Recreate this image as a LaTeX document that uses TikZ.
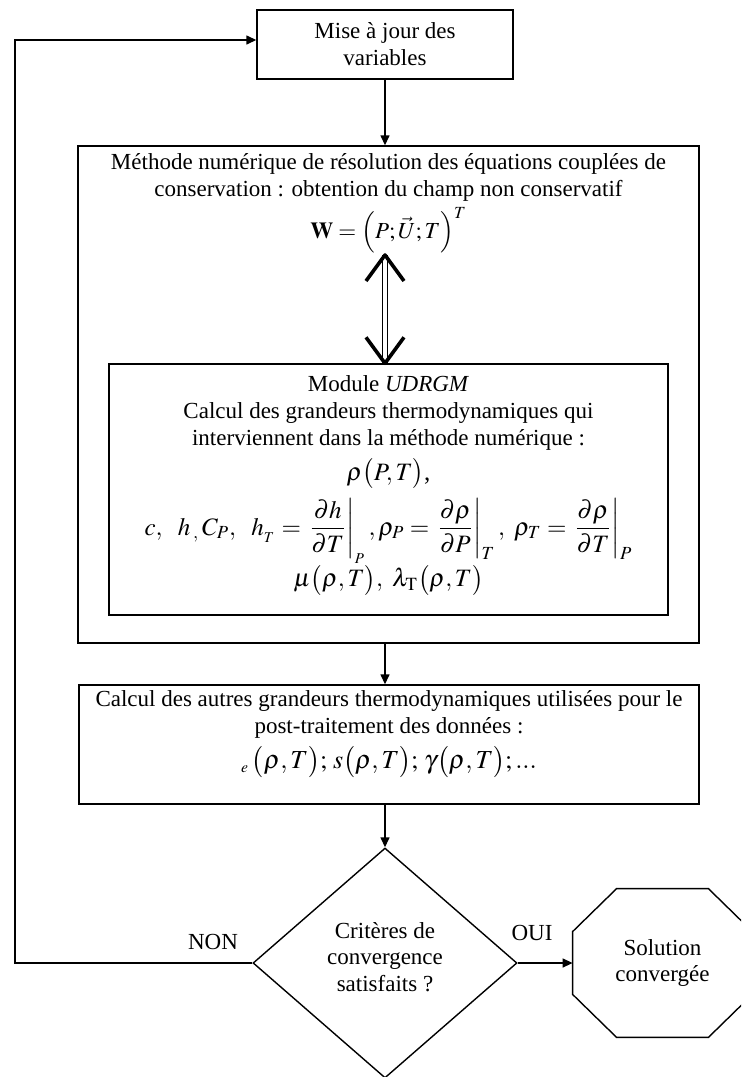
\documentclass[tikz,border=0pt]{standalone}
\usepackage{amsmath}
\usepackage{mathptmx}
\usepackage{fontspec}
\setmainfont{Liberation Serif}
\usetikzlibrary{shapes.geometric, arrows.meta, positioning, calc}

\begin{document}
\begin{tikzpicture}[
        x=0.5pt, y=-0.5pt,
        box/.style={rectangle, draw, line width=0.7pt, inner sep=0pt},
        txt/.style={align=center, inner sep=0pt, font=\fontsize{11.5}{13.4}\selectfont},
        flow/.style={-{Triangle[length=5pt, width=4.5pt]}, line width=0.7pt},
        test/.style={diamond, draw, line width=0.7pt, inner sep=0pt, aspect=1.15}
    ]
        \clip (0,0) rectangle (741,1077);

        % Boxes
        \node[box, txt, minimum width=128pt, minimum height=34.5pt] (maj) at (385,44.5) {Mise à jour des\\variables};
        \node[box, minimum width=310.5pt, minimum height=248.5pt] (methode) at (388.5,394.5) {};
        \node[box, minimum width=279.5pt, minimum height=125.5pt] (udrgm) at (388.5,489.5) {};
        \node[box, minimum width=310pt, minimum height=59.5pt] (posttrait) at (389,744.5) {};

        % Texts of the boxes
        \node[txt, below=4pt of methode.north] (methtxt) {M\'ethode num\'erique de r\'esolution des \'equations coupl\'ees de\\
            conservation : obtention du champ non conservatif\\[2pt]
            $\mathbf{W}=\left(P;\vec{U};T\right)^{T}$};
        \node[txt, below=6pt of udrgm.north] (udrgmtxt) {Module \textit{UDRGM}\\
            Calcul des grandeurs thermodynamiques qui\\
            interviennent dans la m\'ethode num\'erique :\\[4pt]
            {\fontsize{12.5}{14}\selectfont $\rho\bigl(P,T\bigr)$,}\\[4pt]
            {\fontsize{12.5}{14}\selectfont $c,\ \ h\,{}_{,}\,C_{P},\ \ h_{{}_{T}}=\left.\dfrac{\partial h}{\partial T}\right|_{{}_{P}},\rho_{P}=\left.\dfrac{\partial \rho}{\partial P}\right|_{T},\ \rho_{T}=\left.\dfrac{\partial\rho}{\partial T}\right|_{P}$}\\
            {\fontsize{12.5}{14}\selectfont $\mu\bigl(\rho,T\bigr),\ \lambda_{\mathrm{T}}\bigl(\rho,T\bigr)$}};
        \node[txt, below=3pt of posttrait.north] (posttxt) {Calcul des autres grandeurs thermodynamiques utilis\'ees pour le\\
            post-traitement des donn\'ees :\\[3pt]
            {\fontsize{13}{15}\selectfont ${}_{\scriptscriptstyle e}\,\bigl(\rho,T\bigr);\,s\bigl(\rho,T\bigr);\,\gamma\bigl(\rho,T\bigr);...$}};

        % Decision and end
        \node[test, minimum width=132pt, minimum height=115pt] (critere) at (385,963) {};
        \node[txt] (crittxt) at ($(critere)+(0,-6)$) {Crit\`eres de\\convergence\\satisfaits ?};
        \node[txt, minimum width=89.5pt, minimum height=74pt] (solution) at (662.5,963) {Solution\\converg\'ee};
        \draw[line width=0.7pt] ($(solution.north west)+(44,0)$) -- ($(solution.north east)+(-44,0)$)
            -- ($(solution.north east)+(0,43)$) -- ($(solution.south east)+(0,-43)$)
            -- ($(solution.south east)+(-44,0)$) -- ($(solution.south west)+(44,0)$)
            -- ($(solution.south west)+(0,-43)$) -- ($(solution.north west)+(0,43)$) -- cycle;

        % Double arrow
        \coordinate (dtop) at (385,255);
        \coordinate (dbot) at (dtop |- udrgm.north);
        \draw[double, double distance=2pt, line width=0.5pt] (dtop) -- (dbot);
        \draw[line width=1.8pt, line join=round] ($(dtop)+(-19,26)$) -- (dtop) -- ($(dtop)+(19,26)$);
        \draw[line width=1.8pt, line join=round] ($(dbot)+(-19,-26)$) -- (dbot) -- ($(dbot)+(19,-26)$);

        % Connections
        \draw[flow] (maj.south) -- (maj.south |- methode.north);
        \draw[flow] (maj.south |- methode.south) -- (maj.south |- posttrait.north);
        \draw[flow] (critere.north |- posttrait.south) -- (critere.north);
        \draw[flow] (critere.east) -- (solution.west);
        \coordinate (retour) at (15,963);
        \draw[flow] (critere.west) -- (retour) |- ([yshift=2.25pt]maj.west);

        % Labels
        \node[txt] (non) at (213,942) {NON};
        \node[txt] (oui) at (532,933) {OUI};
    \end{tikzpicture}
\end{document}
